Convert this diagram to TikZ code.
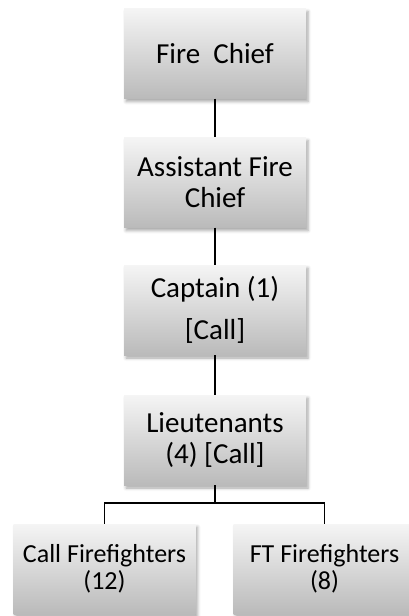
\documentclass[tikz,border=0pt]{standalone}
\usepackage{fontspec}
\setmainfont{Carlito}
\usetikzlibrary{shadows.blur}
\begin{document}
\begin{tikzpicture}[x=1pt,y=-1pt,
  box/.style={rectangle, minimum width=182pt, minimum height=90pt, inner sep=0pt,
    top color=black!4, bottom color=black!27,
    blur shadow={shadow xshift=2pt, shadow yshift=-3pt, shadow blur radius=3pt, shadow opacity=35},
    align=center, font=\fontsize{29}{31}\selectfont},
  small/.style={font=\fontsize{26}{27}\selectfont},
  conn/.style={draw=black, line width=1.2pt}]
\useasboundingbox (0,0) rectangle (409,616);
\node[box] (fc) at (215,53.5) {Fire\ \ Chief};
\node[box] (afc) at (215,182.5) {Assistant Fire\\Chief};
\node[box] (cap) at (215,310) {Captain (1)\\[11pt]{[Call]}};
\node[box] (lt) at (215,440) {Lieutenants\\(4) [Call]};
\node[box,small] (cf) at (104.5,569) {Call Firefighters\\(12)};
\node[box,small] (ft) at (324.5,569) {FT Firefighters\\(8)};
\coordinate (j) at (215,503);
\draw[conn] (fc.south) -- (afc.north);
\draw[conn] (afc.south) -- (cap.north);
\draw[conn] (cap.south) -- (lt.north);
\draw[conn] (lt.south) -- (j);
\draw[conn] (cf.north) |- (j) -| (ft.north);
\end{tikzpicture}
\end{document}
